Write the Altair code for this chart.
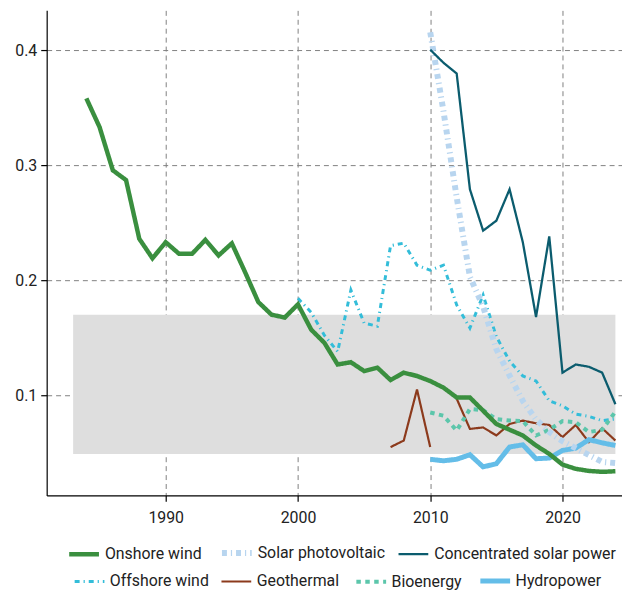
import altair as alt
import pandas as pd

FONT = "Roboto"

# ---- data ----
onshore_years = list(range(1984, 2025))
onshore_wind = [0.358, 0.333, 0.2955, 0.287, 0.236, 0.219, 0.233, 0.223, 0.223, 0.235,
                0.2215, 0.232, 0.207, 0.181, 0.170, 0.1675, 0.179, 0.157, 0.1455, 0.1267,
                0.1287, 0.121, 0.124, 0.1132, 0.1196, 0.1167, 0.1123, 0.1066, 0.098, 0.098,
                0.0865, 0.075, 0.070, 0.065, 0.0563, 0.049, 0.0397, 0.036, 0.0342, 0.0334,
                0.0339]

offshore_years = list(range(2000, 2025))
offshore_wind = [0.1842, 0.172, 0.152, 0.138, 0.1914, 0.1627, 0.160, 0.230, 0.2322, 0.213,
                 0.2086, 0.213, 0.1785, 0.1584, 0.187, 0.151, 0.1296, 0.1167, 0.1124, 0.0951,
                 0.0908, 0.0836, 0.0816, 0.0779, 0.0793]

y2010 = list(range(2010, 2025))
solar_pv = [0.4155, 0.347, 0.272, 0.203, 0.177, 0.140, 0.117, 0.095, 0.079, 0.068,
            0.060, 0.054, 0.048, 0.042, 0.041]
csp = [0.4003, 0.389, 0.3796, 0.279, 0.243, 0.2517, 0.279, 0.233, 0.168, 0.238,
       0.1196, 0.1267, 0.1247, 0.1196, 0.0922]
bioenergy = [0.085, 0.0822, 0.0693, 0.088, 0.087, 0.0793, 0.078, 0.0775, 0.065, 0.070,
             0.0775, 0.0765, 0.068, 0.070, 0.0856]
hydropower = [0.0443, 0.043, 0.0443, 0.0483, 0.0377, 0.0405, 0.055, 0.0569, 0.0448, 0.0454,
              0.052, 0.054, 0.0614, 0.0586, 0.0563]

geo_years_a = [2007, 2008, 2009, 2010]
geothermal_a = [0.0549, 0.0606, 0.105, 0.0549]
geo_years_b = list(range(2012, 2025))
geothermal_b = [0.097, 0.0707, 0.072, 0.065, 0.075, 0.0779, 0.0756, 0.0741, 0.0636,
                0.0741, 0.0592, 0.0713, 0.0606]

band_x = [1983, 2024]
band_y = [0.049, 0.17]

row1 = ["Onshore wind", "Solar photovoltaic", "Concentrated solar power"]
row2 = ["Offshore wind", "Geothermal", "Bioenergy", "Hydropower"]
colors1 = ["#3a8f3f", "#b8d5ef", "#0b5c6e"]
colors2 = ["#33bdd9", "#8c3a1c", "#5cc6ab", "#64bde8"]
widths1 = [4.5, 6.0, 2.3]
widths2 = [3.0, 2.2, 4.0, 5.0]
dashes1 = [[1, 0], [5, 4, 1.2, 4], [1, 0]]
dashes2 = [[5, 4, 1.2, 4], [1, 0], [4.5, 4.5], [1, 0]]


def frame(name, years, vals, seg="a"):
    return pd.DataFrame({"series": name, "year": years, "value": vals, "seg": seg})


df1 = pd.concat([
    frame(row1[0], onshore_years, onshore_wind),
    frame(row1[1], y2010, solar_pv),
    frame(row1[2], y2010, csp),
])
df2 = pd.concat([
    frame(row2[0], offshore_years, offshore_wind),
    frame(row2[1], geo_years_a, geothermal_a, "a"),
    frame(row2[1], geo_years_b, geothermal_b, "b"),
    frame(row2[2], y2010, bioenergy),
    frame(row2[3], y2010, hydropower),
])
band_df = pd.DataFrame({"x0": [band_x[0]], "x1": [band_x[1]],
                        "y0": [band_y[0]], "y1": [band_y[1]]})

xscale = alt.Scale(domain=[1981, 2024.5], nice=False, zero=False)
yscale = alt.Scale(domain=[0.0129, 0.4345], nice=False, zero=False)

xaxis = alt.Axis(values=[1990, 2000, 2010, 2020], format="d", title=None, labelPadding=8)
yaxis = alt.Axis(values=[0.1, 0.2, 0.3, 0.4], format=".1f", title=None, labelPadding=4)


def legend(n, lx, ly):
    return alt.Legend(orient="none", legendX=lx, legendY=ly, direction="horizontal",
                      columns=n, title=None, symbolSize=900, symbolType="stroke",
                      labelFont=FONT, labelFontSize=16, labelColor="#222222",
                      labelOffset=3, columnPadding=8, padding=0, labelLimit=400)


band = alt.Chart(band_df).mark_rect(color="#dedede").encode(
    x=alt.X("x0:Q", scale=xscale, axis=xaxis), x2="x1:Q",
    y=alt.Y("y0:Q", scale=yscale, axis=yaxis), y2="y1:Q")


def lines(df, names, cols, widths, dashes, lx, ly):
    lg = legend(len(names), lx, ly)
    return alt.Chart(df).mark_line(strokeCap="butt").encode(
        x=alt.X("year:Q", scale=xscale, axis=xaxis),
        y=alt.Y("value:Q", scale=yscale, axis=yaxis),
        color=alt.Color("series:N", scale=alt.Scale(domain=names, range=cols), legend=lg),
        strokeDash=alt.StrokeDash("series:N", scale=alt.Scale(domain=names, range=dashes), legend=lg),
        strokeWidth=alt.StrokeWidth("series:N", scale=alt.Scale(type="ordinal", domain=names, range=widths), legend=lg),
        detail="seg:N",
    )


l2 = lines(df2, row2, colors2, widths2, dashes2, 25.7, 557.5)
l1 = lines(df1, row1, colors1, widths1, dashes1, 19.7, 529)

chart = alt.layer(band, l2, l1).resolve_scale(
    color="independent", strokeDash="independent", strokeWidth="independent"
).properties(
    width=580, height=489,
    autosize=alt.AutoSizeParams(type="none"),
    padding={"left": 39, "top": 0, "right": 0, "bottom": 99},
).configure_view(strokeWidth=0).configure_axis(
    labelFont=FONT, labelFontSize=16, labelColor="#222222",
    domainColor="#000000", domainWidth=1.2, tickColor="#000000", tickSize=6, tickWidth=1.2,
    grid=True, gridColor="#808080", gridDash=[5, 4], gridWidth=1,
)

chart.save("out.html", embed_options={"renderer": "svg", "actions": False})
